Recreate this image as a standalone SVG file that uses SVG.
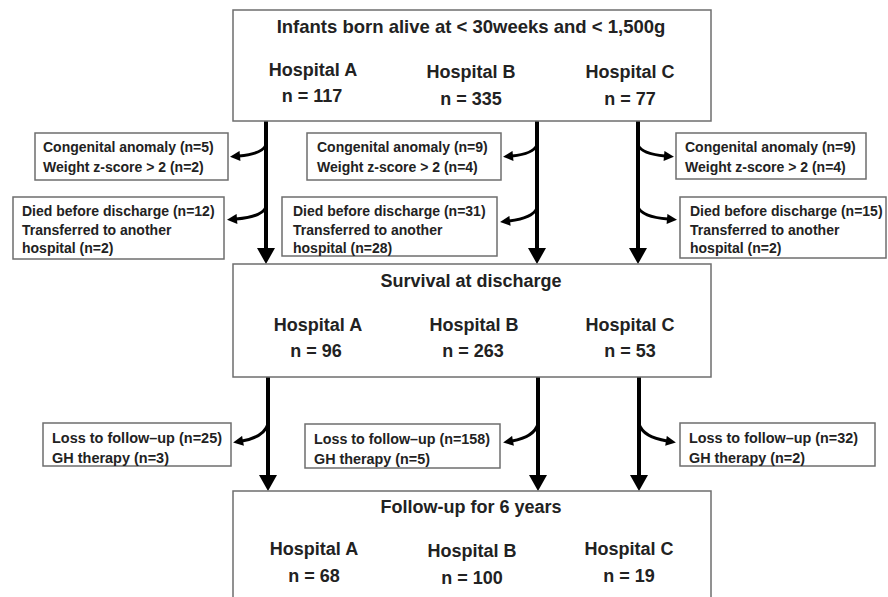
<svg xmlns="http://www.w3.org/2000/svg" width="888" height="597" viewBox="0 0 888 597">
<defs>
<style>
.box{fill:#fff;stroke:#6e6e6e;stroke-width:1.5}
.t{font-family:"Liberation Sans",Arial,sans-serif;font-weight:bold;fill:#222}
.h{font-size:18px;text-anchor:middle}
.ttl{font-size:18.5px}
.s{font-size:14px}
.n{font-size:15.5px}
.main{stroke:#000;stroke-width:4;fill:none}
.br{stroke:#000;stroke-width:3;fill:none;marker-end:url(#ah)}
</style>
<marker id="ah" viewBox="0 0 10 10" refX="1" refY="5" markerWidth="11" markerHeight="10" markerUnits="userSpaceOnUse" orient="auto">
<path d="M0,0 L10,5 L0,10 z" fill="#000"/>
</marker>
</defs>
<rect width="888" height="597" fill="#fff"/>

<g id="connectors">
<line class="main" x1="266" y1="121" x2="266" y2="251"/>
<polygon points="257,248 275,248 266,264"/>
<line class="main" x1="537" y1="121" x2="537" y2="251"/>
<polygon points="528,248 546,248 537,264"/>
<line class="main" x1="638" y1="121" x2="638" y2="251"/>
<polygon points="629,248 647,248 638,264"/>
<path class="br" d="M266 145 Q262 154 239 156"/>
<path class="br" d="M266 207 Q262 217 236 219"/>
<path class="br" d="M537 145 Q533 154 512 156"/>
<path class="br" d="M537 208 Q533 218 509 221"/>
<path class="br" d="M638 145 Q642 154 665 156"/>
<path class="br" d="M638 207 Q642 217 668 219"/>
<line class="main" x1="268" y1="377" x2="268" y2="478"/>
<polygon points="259,475 277,475 268,491"/>
<line class="main" x1="538" y1="377" x2="538" y2="478"/>
<polygon points="529,475 547,475 538,491"/>
<line class="main" x1="639" y1="377" x2="639" y2="478"/>
<polygon points="630,475 648,475 639,491"/>
<path class="br" d="M268 424 Q264 437 242 441"/>
<path class="br" d="M538 424 Q534 437 512 441"/>
<path class="br" d="M639 424 Q643 437 667 441"/>
</g>

<g id="top">
<rect class="box" x="233" y="10" width="478" height="111"/>
<text class="t h ttl" x="471" y="33">Infants born alive at &lt; 30weeks and &lt; 1,500g</text>
<text class="t h" x="313" y="76">Hospital A</text>
<text class="t h" x="312" y="102">n = 117</text>
<text class="t h" x="471" y="78">Hospital B</text>
<text class="t h" x="471" y="105">n = 335</text>
<text class="t h" x="630" y="78">Hospital C</text>
<text class="t h" x="630" y="105">n = 77</text>
</g>

<g id="excl-a1">
<rect class="box" x="35" y="133" width="193" height="47"/>
<text class="t s" x="43" y="152">Congenital anomaly (n=5)</text>
<text class="t s" x="43" y="172">Weight z-score &gt; 2 (n=2)</text>
</g>
<g id="excl-b1">
<rect class="box" x="307" y="133" width="194" height="47"/>
<text class="t s" x="317" y="152">Congenital anomaly (n=9)</text>
<text class="t s" x="317" y="172">Weight z-score &gt; 2 (n=4)</text>
</g>
<g id="excl-c1">
<rect class="box" x="676" y="133" width="190" height="46"/>
<text class="t s" x="685" y="152">Congenital anomaly (n=9)</text>
<text class="t s" x="685" y="172">Weight z-score &gt; 2 (n=4)</text>
</g>

<g id="excl-a2">
<rect class="box" x="13" y="197" width="211" height="62"/>
<text class="t s" x="22" y="216">Died before discharge (n=12)</text>
<text class="t s" x="22" y="235">Transferred to another</text>
<text class="t s" x="22" y="253">hospital (n=2)</text>
</g>
<g id="excl-b2">
<rect class="box" x="282" y="197" width="215" height="59"/>
<text class="t s" x="293" y="216">Died before discharge (n=31)</text>
<text class="t s" x="293" y="235">Transferred to another</text>
<text class="t s" x="293" y="253">hospital (n=28)</text>
</g>
<g id="excl-c2">
<rect class="box" x="680" y="197" width="206" height="61"/>
<text class="t s" x="690" y="216">Died before discharge (n=15)</text>
<text class="t s" x="690" y="235">Transferred to another</text>
<text class="t s" x="690" y="253">hospital (n=2)</text>
</g>

<g id="survival">
<rect class="box" x="233" y="264" width="478" height="113"/>
<text class="t h" x="471" y="287">Survival at discharge</text>
<text class="t h" x="318" y="331">Hospital A</text>
<text class="t h" x="316" y="357">n = 96</text>
<text class="t h" x="474" y="331">Hospital B</text>
<text class="t h" x="473" y="357">n = 263</text>
<text class="t h" x="630" y="331">Hospital C</text>
<text class="t h" x="630" y="357">n = 53</text>
</g>

<g id="loss-a">
<rect class="box" x="43" y="423" width="188" height="43"/>
<text class="t n" x="52" y="443" textLength="170" lengthAdjust="spacingAndGlyphs">Loss to follow–up (n=25)</text>
<text class="t n" x="52" y="463" textLength="117" lengthAdjust="spacingAndGlyphs">GH therapy (n=3)</text>
</g>
<g id="loss-b">
<rect class="box" x="305" y="424" width="195" height="44"/>
<text class="t n" x="314" y="444" textLength="176" lengthAdjust="spacingAndGlyphs">Loss to follow–up (n=158)</text>
<text class="t n" x="314" y="464" textLength="116" lengthAdjust="spacingAndGlyphs">GH therapy (n=5)</text>
</g>
<g id="loss-c">
<rect class="box" x="680" y="423" width="195" height="43"/>
<text class="t n" x="689" y="443" textLength="169" lengthAdjust="spacingAndGlyphs">Loss to follow–up (n=32)</text>
<text class="t n" x="689" y="463" textLength="116" lengthAdjust="spacingAndGlyphs">GH therapy (n=2)</text>
</g>

<g id="followup">
<rect class="box" x="233" y="491" width="478" height="120"/>
<text class="t h" x="471" y="513">Follow-up for 6 years</text>
<text class="t h" x="314" y="555">Hospital A</text>
<text class="t h" x="314" y="582">n = 68</text>
<text class="t h" x="472" y="557">Hospital B</text>
<text class="t h" x="472" y="584">n = 100</text>
<text class="t h" x="629" y="555">Hospital C</text>
<text class="t h" x="629" y="582">n = 19</text>
</g>
</svg>
